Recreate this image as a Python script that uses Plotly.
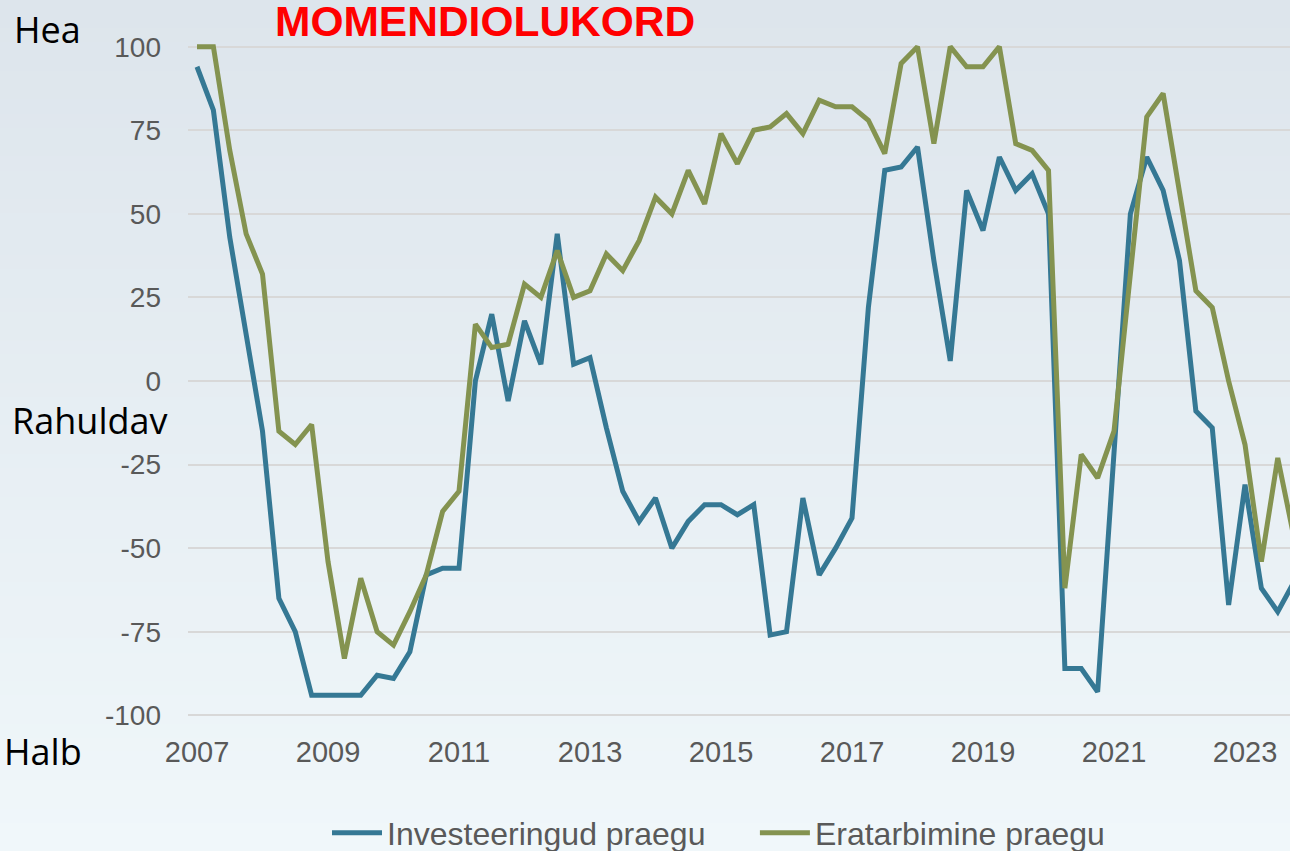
import plotly.graph_objects as go

# Quarterly periods 2007Q1 .. 2023Q4
quarters = [f"{y}Q{q}" for y in range(2007, 2024) for q in range(1, 5)]

investeeringud = [94, 81, 43, 14, -15, -65, -75, -94,
                  -94, -94, -94, -88, -89, -81, -58, -56,
                  -56, 0, 20, -6, 18, 5, 44, 5,
                  7, -14, -33, -42, -35, -50, -42, -37,
                  -37, -40, -37, -76, -75, -35, -58, -50,
                  -41, 22, 63, 64, 70, 36, 6, 57,
                  45, 67, 57, 62, 50, -86, -86, -93,
                  -22, 50, 67, 57, 36, -9, -14, -67,
                  -31, -62, -69, -60]

eratarbimine = [100, 100, 69, 44, 32, -15, -19, -13,
                -54, -83, -59, -75, -79, -69, -58, -39,
                -33, 17, 10, 11, 29, 25, 39, 25,
                27, 38, 33, 42, 55, 50, 63, 53,
                74, 65, 75, 76, 80, 74, 84, 82,
                82, 78, 68, 95, 100, 71, 100, 94,
                94, 100, 71, 69, 63, -62, -22, -29,
                -15, 32, 79, 86, 56, 27, 22, 0,
                -19, -54, -23, -47]

series_names = ["Investeeringud praegu", "Eratarbimine praegu"]
series_colors = ["#357894", "#849350"]
year_ticks = [2007, 2009, 2011, 2013, 2015, 2017, 2019, 2021, 2023]
y_ticks = [100, 75, 50, 25, 0, -25, -50, -75, -100]
y_tick_text = ["100", "75", "50", "25", "0", "-25", "-50", "-75", "-100"]

x_vals = [int(q[:4]) + (int(q[-1]) - 1) / 4 for q in quarters]

W, H = 1290, 851
ML, MR, MT, MB = 188, 0, 40, 129
PW, PH = W - ML - MR, H - MT - MB


def px(xp):
    return (xp - ML) / PW


def py(yp):
    return (H - MB - yp) / PH


fig = go.Figure()
legend_labels = [series_names[0] + "\u00a0" * 5, series_names[1]]
for name, lab, vals, col in zip(series_names, legend_labels,
                                [investeeringud, eratarbimine], series_colors):
    fig.add_trace(go.Scatter(x=x_vals, y=vals, mode="lines", name=lab,
                             hovertemplate=name + ": %{y}<extra></extra>",
                             line=dict(color=col, width=5)))

# gradient background bands
shapes = []
n = 60
top = (221, 229, 236)
bot = (240, 247, 250)
for i in range(n):
    t = i / (n - 1)
    c = tuple(round(top[k] + (bot[k] - top[k]) * t) for k in range(3))
    y0 = i * H / n
    y1 = (i + 1) * H / n + 1
    shapes.append(dict(type="rect", xref="paper", yref="paper",
                       x0=px(0), x1=px(W), y0=py(y1), y1=py(y0),
                       fillcolor=f"rgb{c}", line=dict(width=0), layer="below"))

annotations = [
    dict(text="<b>MOMENDIOLUKORD</b>", x=px(485), y=py(21), xref="paper", yref="paper",
         showarrow=False, font=dict(family="Liberation Sans, Arial", size=42.5, color="#ff0000"),
         xanchor="center", yanchor="middle"),
    dict(text="Hea", x=px(47), y=py(29), xref="paper", yref="paper", showarrow=False,
         font=dict(family="Open Sans", size=36, color="#000000"), xanchor="center", yanchor="middle"),
    dict(text="Rahuldav", x=px(89), y=py(421), xref="paper", yref="paper", showarrow=False,
         font=dict(family="Open Sans", size=36, color="#000000"), xanchor="center", yanchor="middle"),
    dict(text="Halb", x=px(43), y=py(751), xref="paper", yref="paper", showarrow=False,
         font=dict(family="Open Sans", size=36, color="#000000"), xanchor="center", yanchor="middle"),
]

fig.update_layout(
    width=W, height=H,
    margin=dict(l=ML, r=MR, t=MT, b=MB, pad=0, autoexpand=False),
    paper_bgcolor="#e6edf2",
    plot_bgcolor="rgba(0,0,0,0)",
    shapes=shapes,
    annotations=annotations,
    showlegend=True,
    legend=dict(orientation="h", x=px(327), y=py(833), xanchor="left", yanchor="middle",
                font=dict(family="Liberation Sans, Arial", size=32, color="#595959"),
                bgcolor="rgba(0,0,0,0)", itemwidth=50, tracegroupgap=0),
    font=dict(family="Liberation Sans, Arial", color="#595959"),
)

fig.update_xaxes(range=[2007 - 9 / 65.5, 2007 + 1093 / 65.5], tickvals=year_ticks,
                 ticktext=[str(t) for t in year_ticks], showgrid=False, zeroline=False,
                 showline=False, tickfont=dict(size=29, color="#595959"),
                 ticks="", ticklabelstandoff=10, automargin=False)
fig.update_yaxes(range=[-102, 102], tickvals=y_ticks, ticktext=y_tick_text,
                 showgrid=True, gridcolor="#d8d8d8",
                 gridwidth=1.5, zeroline=False, showline=False,
                 tickfont=dict(size=28, color="#595959"), ticks="", ticklabelstandoff=26,
                 automargin=False)

fig.write_html("out.html", config={"displayModeBar": False},
               post_script="document.body.style.margin='0';document.body.style.overflow='hidden';")
